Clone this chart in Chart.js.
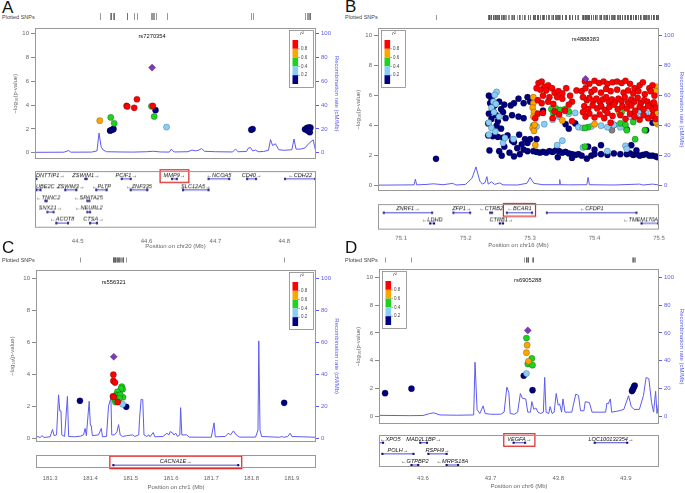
<!DOCTYPE html>
<html>
<head>
<meta charset="utf-8">
<script src="https://cdn.jsdelivr.net/npm/chart.js@4.4.1/dist/chart.umd.min.js"></script>
<style>
  html, body { margin: 0; padding: 0; background: #fff; }
  #fig { position: relative; width: 685px; height: 493px; overflow: hidden; font-family: "Liberation Sans", Arial, sans-serif; }
  #fig canvas { position: absolute; }
  .letter { position: absolute; font-size: 17px; line-height: 17px; color: #111; }
  .snps { position: absolute; font-size: 5.5px; line-height: 6px; color: #444; }
</style>
</head>
<body>
<div id="fig"></div>
<script>
// ---- shared ----
var Y_TICKS = [0, 2, 4, 6, 8, 10];
var RECOMB_TICKS = [0, 20, 40, 60, 80, 100];
var R2_TICK_LABELS = ['0.8', '0.6', '0.4', '0.2'];

// ---- panel A: chr20 ----
var A_LEAD = [44.608, 7.15];
var A_LEAD_NAME = 'rs7270354';
var A_RED = [[44.571, 3.93], [44.572, 3.88], [44.582, 3.77], [44.586, 4.49], [44.609, 3.93]];
var A_ORANGE = [[44.532, 2.69]];
var A_GREEN = [[44.548, 2.96], [44.553, 2.47], [44.611, 3.04], [44.607, 3.9]];
var A_LBLUE = [[44.629, 2.15]];
var A_NAVY = [[44.547, 1.85], [44.549, 1.9], [44.551, 1.95], [44.552, 2.0], [44.613, 3.57],
  [44.752, 1.92], [44.754, 1.99], [44.830, 1.96], [44.833, 2.08], [44.836, 2.12],
  [44.838, 2.1], [44.837, 1.72], [44.834, 1.85]];
var A_GREY = [];
var A_RECOMB = [[44.438, 0.3], [44.48, 0.4], [44.487, 1.8], [44.49, 0.4], [44.52, 0.5], [44.528, 1.5],
  [44.531, 16.5], [44.534, 5], [44.537, 2.2], [44.542, 0.8], [44.56, 0.6], [44.58, 0.5], [44.6, 0.8],
  [44.61, 1.2], [44.62, 0.6], [44.633, 0.5], [44.636, 3], [44.64, 0.6], [44.66, 0.8], [44.666, 2.2],
  [44.671, 1.5], [44.676, 2.2], [44.68, 3.5], [44.684, 1.2], [44.70, 0.8], [44.725, 0.6], [44.729, 3],
  [44.733, 0.8], [44.745, 1], [44.748, 4], [44.751, 4.2], [44.754, 1.5], [44.758, 2.2], [44.762, 0.8],
  [44.77, 1], [44.777, 2], [44.780, 11], [44.783, 6], [44.787, 7.5], [44.792, 2.5], [44.80, 2],
  [44.811, 2.5], [44.814, 11.5], [44.817, 3], [44.824, 3], [44.83, 4], [44.836, 8], [44.842, 10.8],
  [44.844, 5], [44.846, 0.5]];
// name, start, end, row, strand
var A_GENES = [
  ['DNTTIP1', 44.437, 44.440, 1, '+'], ['ZSWIM1', 44.511, 44.513, 1, '+'], ['PCIF1', 44.564, 44.577, 1, '+'],
  ['MMP9', 44.637, 44.644, 1, '+'], ['NCOA5', 44.690, 44.720, 1, '-'], ['CD40', 44.746, 44.759, 1, '+'],
  ['CDH22', 44.801, 44.845, 1, '-'],
  ['UBE2C', 44.440, 44.446, 2, '+'], ['ZSWIM3', 44.482, 44.498, 2, '+'], ['PLTP', 44.527, 44.542, 2, '-'],
  ['ZNF335', 44.577, 44.601, 2, '-'], ['SLC12A5', 44.653, 44.690, 2, '+'],
  ['TNNC2', 44.453, 44.455, 3, '-'], ['SPATA25', 44.514, 44.517, 3, '-'],
  ['SNX21', 44.456, 44.465, 4, '+'], ['NEURL2', 44.514, 44.518, 4, '-'],
  ['ACOT8', 44.469, 44.486, 5, '-'], ['CTSA', 44.518, 44.528, 5, '+']];
var A_HIGHLIGHT = 'MMP9';
var A_XTICKS = [44.5, 44.6, 44.7, 44.8];
var A_XTITLE = 'Position on chr20 (Mb)';

// ---- panel B: chr16 ----
var B_LEAD = [75.386, 7.12];
var B_LEAD_NAME = 'rs4888383';
var B_RED = [
  [75.313, 6.85], [75.318, 6.95], [75.322, 6.6], [75.328, 6.7], [75.310, 6.5], [75.316, 6.4], [75.325, 6.35],
  [75.334, 6.5], [75.338, 6.2], [75.344, 6.3], [75.350, 6.15], [75.320, 6.0], [75.330, 5.9], [75.312, 5.7],
  [75.318, 5.5], [75.328, 5.6], [75.336, 5.45], [75.342, 5.9], [75.350, 5.8], [75.356, 6.5], [75.362, 6.0],
  [75.365, 5.6], [75.372, 6.35], [75.360, 5.4], [75.312, 4.8], [75.320, 4.85], [75.308, 4.5], [75.335, 4.5],
  [75.345, 4.75], [75.365, 4.3], [75.338, 4.95], [75.354, 5.0],
  [75.385, 6.95], [75.392, 6.8], [75.400, 7.0], [75.407, 6.85], [75.414, 6.95], [75.420, 6.8], [75.428, 6.9],
  [75.435, 6.95], [75.442, 6.85], [75.448, 7.0], [75.455, 6.8], [75.462, 6.5], [75.470, 6.7], [75.475, 6.9],
  [75.485, 6.5], [75.490, 6.7],
  [75.380, 6.3], [75.386, 6.5], [75.395, 6.25], [75.400, 6.4], [75.410, 6.2], [75.418, 6.45], [75.425, 6.3],
  [75.435, 6.4], [75.445, 6.2], [75.452, 6.35], [75.460, 6.15], [75.468, 6.3], [75.478, 6.1], [75.487, 6.3],
  [75.493, 6.0],
  [75.382, 5.9], [75.388, 5.7], [75.392, 5.85], [75.398, 5.65], [75.403, 5.8], [75.408, 5.6], [75.413, 5.75],
  [75.418, 5.9], [75.422, 5.6], [75.427, 5.75], [75.432, 5.55], [75.437, 5.8], [75.442, 5.65], [75.447, 5.9],
  [75.452, 5.55], [75.457, 5.75], [75.462, 5.6], [75.467, 5.85], [75.472, 5.5], [75.477, 5.7], [75.482, 5.6],
  [75.487, 5.4], [75.492, 5.55],
  [75.384, 5.3], [75.390, 5.1], [75.397, 5.35], [75.404, 5.15], [75.410, 5.3], [75.416, 5.05], [75.423, 5.25],
  [75.430, 5.4], [75.436, 5.1], [75.443, 5.3], [75.450, 5.15], [75.457, 5.35], [75.463, 5.0], [75.470, 5.25],
  [75.476, 5.1], [75.483, 5.3], [75.490, 5.05], [75.496, 5.2],
  [75.382, 4.9], [75.386, 4.6], [75.392, 4.8], [75.400, 4.55], [75.408, 4.75], [75.415, 4.5], [75.420, 4.85],
  [75.428, 4.65], [75.440, 4.7], [75.448, 4.45], [75.455, 4.8], [75.462, 4.6], [75.470, 4.4], [75.476, 4.7],
  [75.483, 4.5], [75.490, 4.65], [75.495, 4.45], [75.425, 4.2]];
var B_ORANGE = [[75.305, 5.9], [75.305, 5.5], [75.304, 5.2], [75.306, 4.9], [75.305, 4.6], [75.304, 3.85],
  [75.306, 3.65], [75.307, 4.05], [75.308, 2.7], [75.350, 4.35], [75.400, 4.1], [75.438, 4.9], [75.497, 6.6],
  [75.495, 6.3], [75.498, 5.3], [75.496, 4.9], [75.497, 4.4], [75.498, 4.1], [75.495, 4.25]];
var B_GREEN = [[75.333, 5.1], [75.340, 5.15], [75.347, 5.05], [75.354, 5.1], [75.336, 4.85], [75.360, 4.95],
  [75.305, 4.0], [75.390, 3.9], [75.385, 3.85], [75.442, 4.9], [75.440, 4.15], [75.448, 4.05], [75.450, 3.7],
  [75.460, 4.25], [75.463, 3.1], [75.478, 3.7], [75.490, 5.15], [75.385, 2.6]];
var B_LBLUE = [[75.248, 6.25], [75.245, 6.05], [75.243, 5.6], [75.247, 5.45], [75.240, 5.2], [75.244, 4.9],
  [75.252, 4.6], [75.236, 4.2], [75.240, 3.85], [75.246, 3.6], [75.258, 2.85], [75.236, 3.4],
  [75.310, 3.95], [75.322, 4.1], [75.335, 4.4], [75.345, 4.6], [75.360, 4.8], [75.370, 4.85], [75.375, 3.9],
  [75.382, 3.85], [75.395, 3.95], [75.410, 4.0], [75.420, 3.9], [75.430, 4.05], [75.440, 3.9], [75.455, 4.6],
  [75.465, 4.8], [75.470, 5.0], [75.480, 4.85], [75.342, 2.7], [75.350, 3.0], [75.382, 2.55], [75.420, 2.3],
  [75.448, 2.65], [75.450, 2.45], [75.261, 3.18], [75.274, 3.1]];
var B_NAVY = [[75.154, 1.79],
  [75.236, 6.0], [75.240, 5.8], [75.238, 5.5], [75.245, 5.35], [75.242, 5.0], [75.236, 4.8], [75.247, 4.7],
  [75.240, 4.45], [75.250, 4.3], [75.235, 4.15], [75.255, 5.1], [75.258, 4.9], [75.252, 5.6], [75.260, 5.4],
  [75.262, 4.5], [75.248, 4.0], [75.255, 3.8],
  [75.235, 3.35], [75.242, 3.3], [75.250, 3.25], [75.258, 3.2], [75.265, 3.35],
  [75.237, 2.35], [75.252, 2.3], [75.260, 2.6], [75.256, 2.0],
  [75.268, 2.2], [75.272, 3.0], [75.275, 2.9], [75.280, 2.5], [75.283, 3.4], [75.287, 2.75], [75.292, 3.1],
  [75.296, 2.85], [75.300, 3.1], [75.290, 2.4], [75.284, 2.1], [75.296, 2.3], [75.275, 1.95], [75.270, 5.35],
  [75.275, 5.5], [75.282, 5.8], [75.290, 5.5], [75.296, 5.9], [75.300, 5.6], [75.282, 4.6], [75.272, 4.7],
  [75.290, 4.5],
  [75.305, 2.3], [75.310, 2.25], [75.315, 2.2], [75.320, 2.25], [75.325, 2.2], [75.330, 2.3], [75.335, 2.25],
  [75.340, 2.35], [75.345, 2.3], [75.350, 2.2], [75.355, 2.25], [75.360, 2.15], [75.365, 2.1], [75.370, 2.05],
  [75.375, 2.1], [75.380, 2.0], [75.343, 1.9], [75.365, 1.85],
  [75.388, 1.8], [75.395, 2.0], [75.400, 2.1], [75.410, 2.1], [75.420, 2.05], [75.430, 2.15], [75.440, 2.1],
  [75.450, 2.1], [75.455, 2.15], [75.460, 2.05], [75.465, 2.1], [75.470, 2.0], [75.475, 2.05], [75.480, 2.1],
  [75.485, 2.0], [75.490, 2.0], [75.495, 1.95], [75.498, 1.9],
  [75.310, 3.1], [75.360, 3.8], [75.370, 4.15], [75.355, 4.1], [75.390, 2.6], [75.400, 2.4], [75.410, 2.7],
  [75.430, 4.05], [75.440, 4.9], [75.450, 3.75], [75.457, 2.7], [75.465, 2.35], [75.480, 3.7], [75.490, 4.2],
  [75.320, 5.0], [75.410, 5.3]];
var B_GREY = [[75.427, 3.7]];
var B_RECOMB = [[75.064, 0.3], [75.12, 0.5], [75.122, 4.3], [75.124, 0.5], [75.14, 0.8], [75.15, 1.2],
  [75.165, 0.6], [75.18, 1.5], [75.185, 0.4], [75.2, 0.8], [75.21, 5], [75.216, 12.5], [75.222, 3],
  [75.226, 1], [75.23, 2], [75.233, 6], [75.235, 1], [75.24, 2.5], [75.245, 0.8], [75.253, 1.8],
  [75.258, 0.5], [75.28, 0.4], [75.295, 1.5], [75.30, 5.4], [75.306, 1.5], [75.32, 0.6], [75.345, 0.6],
  [75.346, 4], [75.347, 0.6], [75.36, 0.5], [75.388, 0.6], [75.39, 5.5], [75.392, 0.6], [75.43, 0.4],
  [75.47, 1], [75.475, 0.4], [75.49, 1], [75.5, 0.4]];
var B_GENES = [
  ['ZNRF1', 75.073, 75.148, 1, '+'], ['ZFP1', 75.181, 75.207, 1, '+'], ['CTRB2', 75.238, 75.241, 1, '-'],
  ['BCAR1', 75.264, 75.303, 1, '-'], ['CFDP1', 75.326, 75.465, 1, '-'],
  ['LDHD', 75.145, 75.151, 2, '-'], ['CTRB1', 75.253, 75.258, 2, '+'], ['TMEM170A', 75.473, 75.499, 2, '-']];
var B_HIGHLIGHT = 'BCAR1';
var B_XTICKS = [75.1, 75.2, 75.3, 75.4, 75.5];
var B_XTITLE = 'Position on chr16 (Mb)';

// ---- panel C: chr1 ----
var C_LEAD = [181.458, 5.08];
var C_LEAD_NAME = 'rs556321';
var C_RED = [[181.457, 3.96], [181.457, 3.57], [181.461, 3.47], [181.456, 2.61], [181.458, 2.56], [181.468, 2.25]];
var C_ORANGE = [];
var C_GREEN = [[181.478, 3.21], [181.480, 3.05], [181.476, 3.1], [181.467, 2.89], [181.464, 2.69],
  [181.470, 2.55], [181.481, 2.55], [181.468, 2.41], [181.462, 2.25], [181.466, 2.63], [181.474, 2.7],
  [181.472, 2.48], [181.460, 2.45]];
var C_LBLUE = [[181.480, 2.11]];
var C_NAVY = [[181.374, 2.33], [181.489, 1.95], [181.881, 2.2]];
var C_GREY = [];
var C_RECOMB = [[181.265, 0.3], [181.27, 1], [181.275, 0.3], [181.28, 1.5], [181.285, 0.4], [181.3, 0.8],
  [181.306, 5.4], [181.31, 1.5], [181.316, 2], [181.321, 27], [181.324, 17], [181.327, 17], [181.329, 2],
  [181.336, 1], [181.343, 26], [181.346, 1], [181.36, 0.8], [181.375, 1.2], [181.383, 2], [181.387, 6],
  [181.39, 1.5], [181.397, 23], [181.400, 8], [181.402, 8], [181.405, 1.5], [181.42, 2], [181.427, 6],
  [181.43, 0.8], [181.44, 1], [181.445, 20], [181.451, 25], [181.453, 2], [181.46, 2], [181.466, 4],
  [181.470, 8.4], [181.474, 2], [181.48, 1], [181.49, 1.5], [181.505, 2], [181.51, 1], [181.52, 2],
  [181.522, 12], [181.526, 24.3], [181.53, 24], [181.533, 2], [181.54, 1], [181.545, 2], [181.548, 0.8],
  [181.556, 3.5], [181.56, 0.8], [181.58, 1], [181.59, 3], [181.595, 2], [181.598, 4], [181.603, 3.5],
  [181.607, 2], [181.612, 3], [181.616, 1], [181.622, 2], [181.624, 19], [181.627, 2], [181.639, 2],
  [181.645, 0.6], [181.7, 0.5], [181.707, 9.5], [181.71, 0.8], [181.735, 1], [181.742, 3], [181.748, 2],
  [181.755, 4.5], [181.762, 2], [181.77, 0.6], [181.81, 0.6], [181.816, 5], [181.818, 60.7], [181.821, 5],
  [181.825, 1], [181.87, 0.5], [181.875, 1], [181.88, 0.5], [181.89, 1], [181.896, 3], [181.90, 1],
  [181.96, 0.5]];
var C_GENES = [['CACNA1E', 181.457, 181.767, 1, '+']];
var C_HIGHLIGHT = 'CACNA1E';
var C_XTICKS = [181.3, 181.4, 181.5, 181.6, 181.7, 181.8, 181.9];
var C_XTITLE = 'Position on chr1 (Mb)';

// ---- panel D: chr6 ----
var D_LEAD = [43.755, 6.18];
var D_LEAD_NAME = 'rs6905288';
var D_RED = [];
var D_ORANGE = [[43.754, 5.12], [43.753, 4.58], [43.756, 3.96]];
var D_GREEN = [[43.753, 5.63], [43.761, 4.17], [43.755, 3.77], [43.762, 3.68]];
var D_LBLUE = [[43.753, 3.08]];
var D_NAVY = [[43.544, 1.67], [43.583, 1.99], [43.749, 2.92], [43.762, 1.88], [43.909, 1.82],
  [43.910, 1.9], [43.911, 2.0], [43.912, 2.13], [43.913, 2.22]];
var D_GREY = [];
var D_RECOMB = [[43.535, 0.7], [43.58, 0.5], [43.6, 0.6], [43.61, 2], [43.616, 2.5], [43.625, 1],
  [43.65, 0.8], [43.675, 1], [43.677, 38.9], [43.680, 5], [43.684, 2], [43.689, 7.5], [43.692, 2],
  [43.70, 1.5], [43.715, 1.5], [43.72, 3], [43.724, 21], [43.727, 17], [43.729, 2], [43.735, 1.5],
  [43.740, 3], [43.744, 16.4], [43.747, 13], [43.752, 12.5], [43.755, 3], [43.759, 3], [43.761, 10.6],
  [43.764, 5], [43.767, 6], [43.770, 3], [43.774, 2], [43.778, 3], [43.780, 28], [43.782, 3], [43.786, 2],
  [43.788, 7], [43.791, 2], [43.794, 3], [43.797, 16.4], [43.800, 8], [43.802, 9], [43.805, 3],
  [43.807, 12.5], [43.810, 3], [43.82, 3], [43.826, 16], [43.83, 15], [43.833, 4], [43.838, 4],
  [43.840, 10.5], [43.846, 10], [43.85, 3], [43.87, 3], [43.872, 9.5], [43.874, 9], [43.877, 12.5],
  [43.879, 3], [43.89, 4], [43.897, 5], [43.904, 14.8], [43.908, 7], [43.912, 5], [43.92, 5], [43.926, 15],
  [43.930, 28], [43.934, 27], [43.938, 10], [43.941, 3], [43.944, 18], [43.946, 2], [43.948, 8],
  [43.949, 0.5]];
var D_GENES = [
  ['XPO5', 43.535, 43.541, 1, '-'], ['MAD2L1BP', 43.596, 43.606, 1, '+'], ['VEGFA', 43.734, 43.751, 1, '+'],
  ['LOC100132354', 43.854, 43.902, 1, '+'],
  ['POLH', 43.540, 43.586, 2, '+'], ['RSPH9', 43.608, 43.635, 2, '+'],
  ['GTPBP2', 43.583, 43.593, 3, '-'], ['MRPS18A', 43.635, 43.652, 3, '-']];
var D_HIGHLIGHT = 'VEGFA';
var D_XTICKS = [43.6, 43.7, 43.8, 43.9];
var D_XTITLE = 'Position on chr6 (Mb)';

// ---- styling ----
var FONT = '"Liberation Sans", Arial, sans-serif';
var AXIS_GREY = '#666';
var RECOMB_BLUE = '#5c5cf0';
var FRAME_GREY = '#999';
var R2_COLORS = ['#ff0000', '#ffa500', '#1fd21f', '#87cefa', '#000080'];
var LEAD_COLOR = '#8038b8';
var MISSING_COLOR = '#808080';
var GENE_LINE = '#4a4ad0';
var GENE_DARK = '#10107a';
var PANEL_W = 342;

var fig = document.getElementById('fig');

function addCanvas(left, top, w, h) {
  var c = document.createElement('canvas');
  c.width = w;
  c.height = h;
  c.style.left = left + 'px';
  c.style.top = top + 'px';
  c.style.width = w + 'px';
  c.style.height = h + 'px';
  fig.appendChild(c);
  return c;
}

function addText(cls, text, left, top) {
  var d = document.createElement('div');
  d.className = cls;
  d.textContent = text;
  d.style.left = left + 'px';
  d.style.top = top + 'px';
  fig.appendChild(d);
}

function pts(list) {
  return list.map(function (p) { return { x: p[0], y: p[1] }; });
}

function snpSet(list, color, order, style) {
  return {
    data: pts(list),
    backgroundColor: color,
    borderColor: 'rgba(0,0,0,0.45)',
    borderWidth: 0.5,
    pointRadius: style ? 3.6 : 3.1,
    pointStyle: style || 'circle',
    order: order,
  };
}

function fixTicks(values) {
  return function (axis) { axis.ticks = values.map(function (v) { return { value: v }; }); };
}

// grey border round the chart area
var framePlugin = {
  id: 'frame',
  afterDraw: function (chart) {
    var a = chart.chartArea, ctx = chart.ctx;
    ctx.save();
    ctx.strokeStyle = FRAME_GREY;
    ctx.lineWidth = 1;
    ctx.strokeRect(Math.round(a.left) + 0.5, Math.round(a.top) + 0.5,
      Math.round(a.right - a.left) - 1, Math.round(a.bottom - a.top) - 1);
    ctx.restore();
  },
};

// rug of plotted SNPs, lead SNP name and r2 key
function overlayPlugin(p, L) {
  return {
    id: 'overlay',
    afterDatasetsDraw: function (chart) {
      var ctx = chart.ctx, xs = chart.scales.x, ys = chart.scales.y, a = chart.chartArea;
      ctx.save();

      ctx.strokeStyle = '#555';
      ctx.lineWidth = 0.6;
      p.all.forEach(function (s) {
        var px = Math.round(xs.getPixelForValue(s[0])) + 0.5;
        ctx.beginPath();
        ctx.moveTo(px, L.rug[0] - L.mainTop);
        ctx.lineTo(px, L.rug[1] - L.mainTop);
        ctx.stroke();
      });

      ctx.fillStyle = '#111';
      ctx.font = '5.8px ' + FONT;
      ctx.textAlign = 'center';
      ctx.textBaseline = 'middle';
      ctx.fillText(p.leadName, xs.getPixelForValue(p.lead[0]), ys.getPixelForValue(9.75));

      var lx = L.legend === 'right' ? a.right - 27 : a.left + 3;
      var ly = a.top + 1.5;
      ctx.fillStyle = '#fff';
      ctx.fillRect(lx, ly, 24, 57);
      ctx.strokeStyle = '#888';
      ctx.lineWidth = 0.8;
      ctx.strokeRect(Math.round(lx) + 0.5, Math.round(ly) + 0.5, 24, 57);
      ctx.fillStyle = '#333';
      ctx.font = 'italic 5px ' + FONT;
      ctx.fillText('r\u00b2', lx + 13, ly + 4.5);
      var bh = 8.8;
      R2_COLORS.forEach(function (c, i) {
        ctx.fillStyle = c;
        ctx.fillRect(lx + 3.5, ly + 10.5 + i * bh, 5.6, bh);
      });
      ctx.font = '4.5px ' + FONT;
      ctx.textAlign = 'left';
      ctx.strokeStyle = '#555';
      ctx.lineWidth = 0.5;
      R2_TICK_LABELS.forEach(function (t, i) {
        var y = ly + 10.5 + (i + 1) * bh;
        ctx.beginPath();
        ctx.moveTo(lx + 9.1, y);
        ctx.lineTo(lx + 11, y);
        ctx.stroke();
        ctx.fillStyle = '#444';
        ctx.fillText(t, lx + 12, y);
      });
      ctx.restore();
    },
  };
}

// gene names with strand arrows, and the red box round the gene of interest
function geneLabelPlugin(p) {
  return {
    id: 'geneLabels',
    afterDatasetsDraw: function (chart) {
      var ctx = chart.ctx, xs = chart.scales.x, ys = chart.scales.y, a = chart.chartArea;
      ctx.save();
      ctx.font = 'italic 5.6px ' + FONT;
      ctx.textAlign = 'center';
      ctx.textBaseline = 'alphabetic';
      p.genes.forEach(function (g) {
        var label = g[4] === '+' ? g[0] + '\u2192' : '\u2190' + g[0];
        var x1 = xs.getPixelForValue(g[1]), x2 = xs.getPixelForValue(g[2]);
        var y = ys.getPixelForValue(g[3]);
        var w = ctx.measureText(label).width;
        var cx = Math.max(a.left + w / 2 + 1, Math.min(a.right - w / 2 - 1, (x1 + x2) / 2));
        ctx.fillStyle = '#111';
        ctx.fillText(label, cx, y - 2);
        if (g[0] === p.highlight) {
          var bx1 = Math.min(cx - w / 2, x1) - 3.5;
          var bx2 = Math.max(cx + w / 2, x2) + 3.5;
          ctx.strokeStyle = '#e02020';
          ctx.lineWidth = 1.2;
          ctx.strokeRect(bx1, y - 9, bx2 - bx1, 12.5);
        }
      });
      ctx.restore();
    },
  };
}

function buildPanel(p, L) {
  addText('letter', p.letter, L.x + 2, L.letterTop);
  addText('snps', 'Plotted SNPs', L.x + 2, L.snpsTop);

  var xMin = L.xRange[0], xMax = L.xRange[1];

  // association plot with recombination rate
  var main = addCanvas(L.x, L.mainTop, PANEL_W, L.plotBottom - L.mainTop);
  new Chart(main, {
    type: 'scatter',
    plugins: [framePlugin, overlayPlugin(p, L)],
    data: {
      datasets: [
        snpSet([p.lead], LEAD_COLOR, 0, 'rectRot'),
        snpSet(p.red, R2_COLORS[0], 1),
        snpSet(p.orange, R2_COLORS[1], 2),
        snpSet(p.green, R2_COLORS[2], 3),
        snpSet(p.lblue, R2_COLORS[3], 4),
        snpSet(p.grey, MISSING_COLOR, 5),
        snpSet(p.navy, R2_COLORS[4], 5),
        {
          data: pts(p.recomb),
          yAxisID: 'y2',
          showLine: true,
          borderColor: RECOMB_BLUE,
          borderWidth: 1,
          pointRadius: 0,
          tension: 0,
          order: 10,
        },
      ],
    },
    options: {
      responsive: false,
      animation: false,
      events: [],
      layout: { padding: { top: L.plotTop - L.mainTop, bottom: 0, left: 0, right: 0 } },
      plugins: { legend: { display: false }, tooltip: { enabled: false } },
      scales: {
        x: { type: 'linear', display: false, min: xMin, max: xMax },
        y: {
          position: 'left',
          min: L.yRange[0],
          max: L.yRange[1],
          afterBuildTicks: fixTicks(Y_TICKS),
          afterFit: function (s) { s.width = L.left; },
          ticks: { color: AXIS_GREY, font: { family: FONT, size: 6 }, padding: 2 },
          grid: { drawOnChartArea: false, tickLength: 4, color: '#888' },
          border: { display: false },
          title: {
            display: true,
            text: '\u2212log\u2081\u2080(p-value)',
            color: AXIS_GREY,
            font: { family: FONT, size: 6 },
            padding: { top: L.titlePad, bottom: 0 },
          },
        },
        y2: {
          position: 'right',
          min: L.yRange[0] * 10,
          max: L.yRange[1] * 10,
          afterBuildTicks: fixTicks(RECOMB_TICKS),
          afterFit: function (s) { s.width = L.right; },
          ticks: { color: RECOMB_BLUE, font: { family: FONT, size: 6 }, padding: 2 },
          grid: { drawOnChartArea: false, tickLength: 3, color: RECOMB_BLUE },
          border: { display: false },
          title: {
            display: true,
            text: 'Recombination rate (cM/Mb)',
            color: RECOMB_BLUE,
            font: { family: FONT, size: 6 },
            padding: { top: L.rightTitlePad, bottom: 0 },
          },
        },
      },
    },
  });

  // gene track with the shared position axis
  var geneSets = p.genes.map(function (g) {
    return {
      data: [{ x: g[1], y: g[3] }, { x: g[2], y: g[3] }],
      showLine: true,
      borderColor: GENE_LINE,
      borderWidth: 1,
      pointStyle: 'rect',
      pointRadius: 1.5,
      pointBackgroundColor: GENE_DARK,
      pointBorderWidth: 0,
    };
  });
  var genes = addCanvas(L.x, L.geneTop, PANEL_W, L.boxBottom - L.geneTop + L.xAxisH);
  new Chart(genes, {
    type: 'scatter',
    plugins: [framePlugin, geneLabelPlugin(p)],
    data: { datasets: geneSets },
    options: {
      responsive: false,
      animation: false,
      events: [],
      layout: { padding: { top: L.boxTop - L.geneTop, bottom: 0, left: L.left, right: L.right } },
      plugins: { legend: { display: false }, tooltip: { enabled: false } },
      scales: {
        x: {
          type: 'linear',
          min: xMin,
          max: xMax,
          afterBuildTicks: fixTicks(p.xticks),
          afterFit: function (s) { s.height = L.xAxisH; },
          ticks: {
            color: AXIS_GREY,
            font: { family: FONT, size: 6 },
            padding: L.xTickPad,
            autoSkip: false,
            maxRotation: 0,
            callback: function (v) { return v.toFixed(1); },
          },
          grid: { display: false, drawTicks: false },
          border: { display: false },
          title: {
            display: true,
            text: p.xtitle,
            color: AXIS_GREY,
            font: { family: FONT, size: 6 },
            padding: { top: 0, bottom: 0 },
          },
        },
        y: { display: false, reverse: true, min: L.rowRange[0], max: L.rowRange[1] },
      },
    },
  });
}

function panelData(letter, lead, leadName, red, orange, green, lblue, navy, grey, recomb, genes, highlight, xticks, xtitle) {
  return {
    letter: letter, lead: lead, leadName: leadName, red: red, orange: orange, green: green,
    lblue: lblue, navy: navy, grey: grey, recomb: recomb, genes: genes, highlight: highlight,
    xticks: xticks, xtitle: xtitle,
    all: [lead].concat(red, orange, green, lblue, navy, grey),
  };
}

buildPanel(
  panelData('A', A_LEAD, A_LEAD_NAME, A_RED, A_ORANGE, A_GREEN, A_LBLUE, A_NAVY, A_GREY, A_RECOMB, A_GENES, A_HIGHLIGHT, A_XTICKS, A_XTITLE),
  { x: 0, letterTop: -1, snpsTop: 14, mainTop: 6, plotTop: 28, plotBottom: 165, left: 35, right: 26,
    xRange: [44.438, 44.846], yRange: [-0.565, 10.48], rug: [13, 20], legend: 'right', titlePad: 11.4,
    rightTitlePad: 1.7, geneTop: 167, boxTop: 170, boxBottom: 228, rowRange: [0.286, 5.465],
    xAxisH: 21.6, xTickPad: 8.9 });

buildPanel(
  panelData('B', B_LEAD, B_LEAD_NAME, B_RED, B_ORANGE, B_GREEN, B_LBLUE, B_NAVY, B_GREY, B_RECOMB, B_GENES, B_HIGHLIGHT, B_XTICKS, B_XTITLE),
  { x: 343, letterTop: -2, snpsTop: 14, mainTop: 6, plotTop: 28, plotBottom: 197, left: 35, right: 26,
    xRange: [75.064, 75.5], yRange: [-0.387, 10.52], rug: [15, 20], legend: 'left', titlePad: 11.4,
    rightTitlePad: 0, geneTop: 200, boxTop: 203, boxBottom: 230, rowRange: [0.18, 2.635],
    xAxisH: 18.6, xTickPad: 3.9 });

buildPanel(
  panelData('C', C_LEAD, C_LEAD_NAME, C_RED, C_ORANGE, C_GREEN, C_LBLUE, C_NAVY, C_GREY, C_RECOMB, C_GENES, C_HIGHLIGHT, C_XTICKS, C_XTITLE),
  { x: 0, letterTop: 239, snpsTop: 257, mainTop: 250, plotTop: 270, plotBottom: 448, left: 36, right: 26,
    xRange: [181.265, 181.96], yRange: [-0.27, 10.5], rug: [257.5, 262.5], legend: 'right', titlePad: 8.4,
    rightTitlePad: 1.7, geneTop: 451, boxTop: 454, boxBottom: 468, rowRange: [0, 1.27],
    xAxisH: 23.1, xTickPad: 6.9 });

buildPanel(
  panelData('D', D_LEAD, D_LEAD_NAME, D_RED, D_ORANGE, D_GREEN, D_LBLUE, D_NAVY, D_GREY, D_RECOMB, D_GENES, D_HIGHLIGHT, D_XTICKS, D_XTITLE),
  { x: 343, letterTop: 239, snpsTop: 257, mainTop: 250, plotTop: 269, plotBottom: 430, left: 36, right: 26,
    xRange: [43.535, 43.949], yRange: [-0.58, 10.6], rug: [257.5, 262.5], legend: 'left', titlePad: 11.4,
    rightTitlePad: 0, geneTop: 431, boxTop: 434, boxBottom: 467, rowRange: [0.304, 3.17],
    xAxisH: 23.1, xTickPad: 7.4 });
</script>
</body>
</html>
